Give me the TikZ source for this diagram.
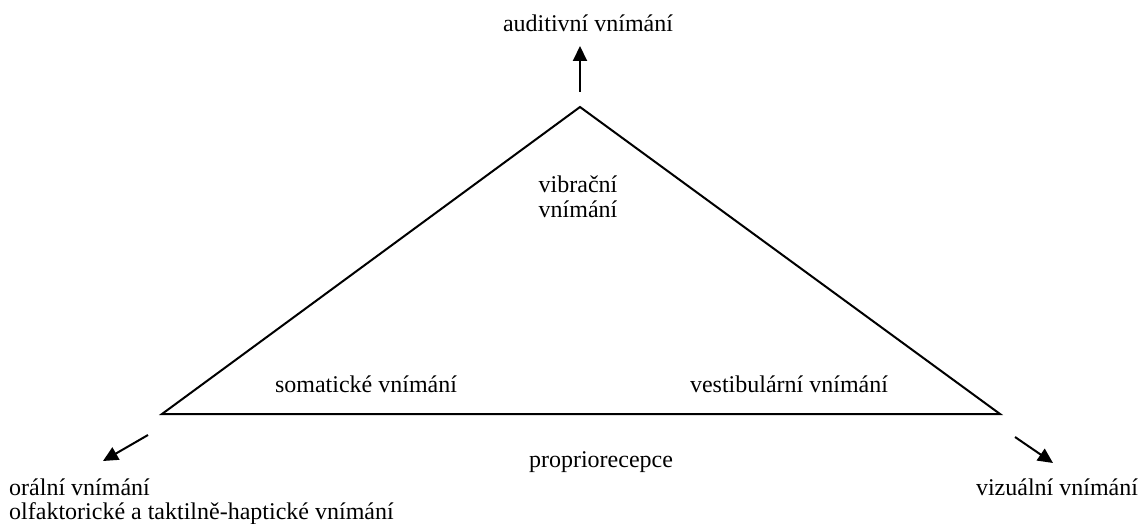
\documentclass[tikz,border=0pt]{standalone}
\usepackage{fontspec}
\setmainfont{Liberation Serif}
\usetikzlibrary{arrows.meta}
\begin{document}
\begin{tikzpicture}[x=1pt,y=-1pt,
  edge/.style={line width=2pt, line join=miter},
  sense/.style={line width=2pt, -{Triangle[length=15pt,width=14pt]}},
  lbl/.style={inner sep=0pt, anchor=base, font=\fontsize{24}{24}\selectfont},
  lblw/.style={lbl, anchor=base west}]
\useasboundingbox (0,0) rectangle (1146,524);

% triangle corners
\coordinate (apex) at (580,107);
\coordinate (lv) at (162,414);
\coordinate (rv) at (1000,414);
\draw[edge] (apex) -- (lv) -- (rv) -- cycle;

% inner labels
\node[lbl] (vib1) at (578,193) {vibrační};
\node[lbl] (vib2) at (578,217) {vnímání};
\node[lbl] (som) at (366,392) {somatické vnímání};
\node[lbl] (ves) at (789,392) {vestibulární vnímání};
\node[lbl] (prop) at (601,467) {propriorecepce};

% outer labels
\node[lbl] (aud) at (588,32) {auditivní vnímání};
\node[lbl] (viz) at (1057,495) {vizuální vnímání};
\node[lblw] (ora1) at (9,495) {orální vnímání};
\node[lblw] (ora2) at (9,519) {olfaktorické a taktilně-haptické vnímání};

% arrows pointing outward from the corners
\coordinate (audS) at (580,92);
\coordinate (audE) at (580,46);
\coordinate (oraS) at (148,435);
\coordinate (oraE) at (103,461);
\coordinate (vizS) at (1015,437);
\coordinate (vizE) at (1053,463);
\draw[sense] (audS) -- (audE);
\draw[sense] (oraS) -- (oraE);
\draw[sense] (vizS) -- (vizE);
\end{tikzpicture}
\end{document}
